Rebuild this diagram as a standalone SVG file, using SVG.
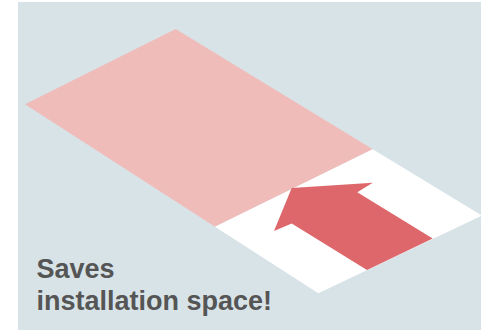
<svg xmlns="http://www.w3.org/2000/svg" width="481" height="330" viewBox="0 0 481 330">
<style>
.bg{fill:#d8e3e8}
.pink{fill:#f0bcb9}
.white{fill:#ffffff}
.arrow{fill:#dd676b}
.label{font-family:"Liberation Sans",Arial,sans-serif;font-weight:bold;font-size:27px;fill:#555555}
</style>
<rect x="0" y="0" width="481" height="330" fill="#ffffff"/>
<rect class="bg" x="18" y="2" width="463" height="328"/>
<g id="old-space">
<polygon class="pink" points="175.7,29 25,104.3 215,226.7 372.7,149.3"/>
</g>
<g id="saved-space">
<polygon class="white" points="372.7,149.3 481,215 481,216 318.3,293.3 215,226.7"/>
</g>
<g id="arrow">
<polygon class="arrow" points="291.7,188 372.7,182.7 357.3,192.3 432.7,238.5 367,270 291.7,223.5 274,231"/>
</g>
<g id="caption">
<text class="label" x="36.5" y="278">Saves</text>
<text class="label" x="36.5" y="310">installation space!</text>
</g>
</svg>
